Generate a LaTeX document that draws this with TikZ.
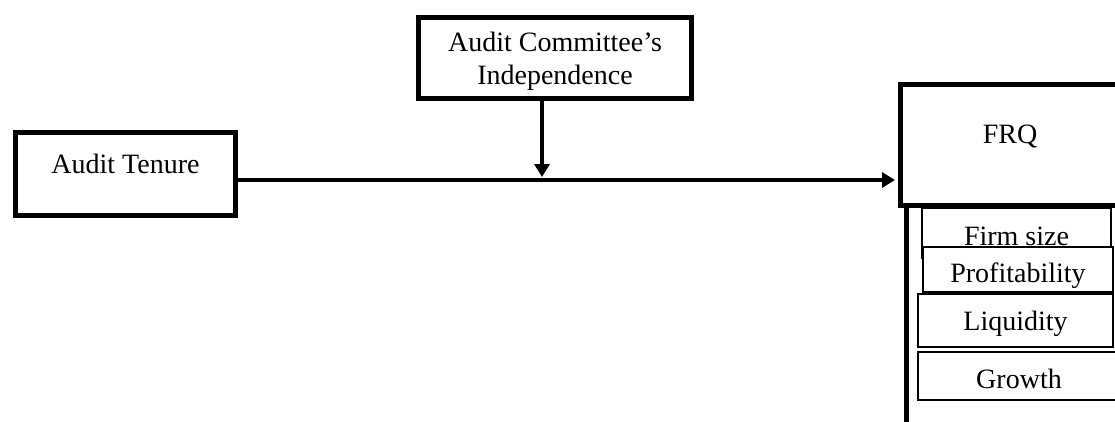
\documentclass[tikz,border=0pt]{standalone}
\usepackage{fontspec}
\setmainfont{Liberation Serif}
\usepackage{tikz}
\usetikzlibrary{calc,arrows.meta,positioning,shapes}

\begin{document}
\begin{tikzpicture}[x=1pt, y=-1pt, font=\fontsize{28}{33}\selectfont,
    box/.style={draw, line width=5pt, inner sep=0pt},
    ctrl/.style={draw, fill=white, line width=1.5pt, inner sep=0pt, text depth=6pt},
    arr/.style={-{Triangle[length=13pt, width=15pt]}, line width=4.5pt}]
    \useasboundingbox (0,0) rectangle (1115,421);

    \node[box, minimum width=220pt, minimum height=83pt, text height=19pt, text depth=21pt] (tenure) at (125.5,174) {Audit Tenure};
    \node[box, align=center, minimum width=273pt, minimum height=81pt, text height=53pt, text depth=0pt] (committee) at (555,58) {Audit Committee's\\Independence};
    \node[box, minimum width=220pt, minimum height=120.5pt, text height=19pt, text depth=21pt] (frq) at (1010,144.75) {FRQ};

    % left and top side of the control box
    \draw[line width=5pt] (906,440) -- (906,205) -- (1130,205);

    \node[ctrl, minimum width=189pt, minimum height=50pt, text height=30pt] (size) at (1016.5,233) {Firm size};
    \node[ctrl, minimum width=190pt, minimum height=45pt, text height=31pt] (profit) at (1018,269.5) {Profitability};
    \node[ctrl, minimum width=195pt, minimum height=53pt, text height=25pt] (liquid) at (1015.5,320.5) {Liquidity};
    \node[ctrl, minimum width=202pt, minimum height=48pt, text height=30pt] (growth) at (1019,376) {Growth};

    \coordinate (meet) at (542,180);
    \draw[arr, shorten >=2.5pt] (tenure.east |- meet) -- (frq.west |- meet);
    \draw[arr, line width=4pt, shorten >=3pt] (committee.south -| meet) -- (meet);
\end{tikzpicture}
\end{document}
